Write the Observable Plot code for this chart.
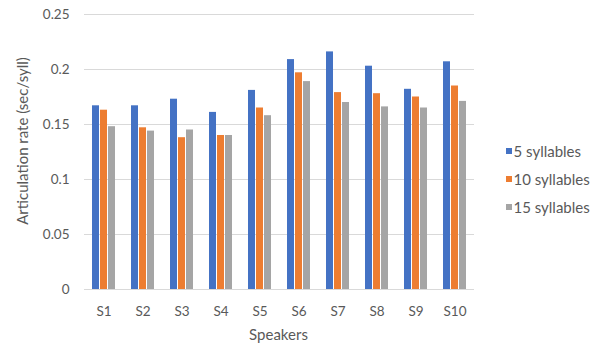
<!DOCTYPE html>
<html>
<head>
<meta charset="utf-8">
<script src="https://cdn.jsdelivr.net/npm/d3@7"></script>
<script src="https://cdn.jsdelivr.net/npm/@observablehq/plot@0.6"></script>
<style>
  html, body { margin: 0; padding: 0; background: #fff; }
  #chart { position: relative; width: 598px; height: 346px; font-family: Lato, "Open Sans", sans-serif; color: #595959; }
  #chart svg { display: block; }
  .title { position: absolute; font-size: 15px; white-space: nowrap; line-height: 1; }
  #ytitle { left: 22px; top: 141px; transform: translate(-50%, -50%) rotate(-90deg); }
  #xtitle { left: 278.5px; top: 334px; transform: translate(-50%, -50%); }
  #legend { position: absolute; left: 506px; top: 137px; font-size: 15px; }
  #legend .item { display: flex; align-items: center; height: 28px; }
  #legend .swatch { width: 6px; height: 6px; margin-right: 1.5px; }
</style>
</head>
<body>
<div id="chart"></div>
<script>
// Articulation rate per speaker for three utterance lengths
const speakers = ["S1", "S2", "S3", "S4", "S5", "S6", "S7", "S8", "S9", "S10"];
const series = ["5 syllables", "10 syllables", "15 syllables"];
const rate5 = [0.167, 0.167, 0.173, 0.161, 0.181, 0.209, 0.216, 0.203, 0.182, 0.207];
const rate10 = [0.163, 0.147, 0.138, 0.140, 0.165, 0.197, 0.179, 0.178, 0.175, 0.185];
const rate15 = [0.148, 0.144, 0.145, 0.140, 0.158, 0.189, 0.170, 0.166, 0.165, 0.171];
const yTicks = [0, 0.05, 0.1, 0.15, 0.2, 0.25];
const colors = ["#4472C4", "#ED7D31", "#A5A5A5"];
const xTitle = "Speakers";
const yTitle = "Articulation rate (sec/syll)";

const bySeries = [rate5, rate10, rate15];
const data = speakers.flatMap((speaker, i) =>
  series.map((s, j) => ({speaker, series: s, rate: bySeries[j][i]}))
);

const chart = Plot.plot({
  width: 598,
  height: 346,
  marginLeft: 79,
  marginRight: 120,
  marginTop: 14,
  marginBottom: 57,
  style: {fontFamily: "Lato, 'Open Sans', sans-serif", fontSize: "13.5px", color: "#595959", background: "white"},
  facet: {data, x: "speaker"},
  fx: {
    domain: speakers,
    padding: 0,
    axis: "bottom",
    tickSize: 0,
    tickPadding: 17,
    label: null
  },
  x: {domain: series, axis: null, paddingInner: 0.1, paddingOuter: 0.935},
  y: {
    domain: [0, 0.25],
    ticks: yTicks,
    tickFormat: d => String(d),
    tickSize: 0,
    tickPadding: 15,
    label: null
  },
  color: {domain: series, range: colors},
  marks: [
    Plot.gridY(yTicks, {stroke: "#d9d9d9", strokeOpacity: 1, strokeWidth: 1}),
    Plot.barY(data, {x: "series", y: "rate", fill: "series"})
  ]
});
const root = document.getElementById("chart");
root.appendChild(chart);

// Axis titles
for (const [id, text] of [["xtitle", xTitle], ["ytitle", yTitle]]) {
  const el = document.createElement("div");
  el.id = id;
  el.className = "title";
  el.textContent = text;
  root.appendChild(el);
}

// Legend to the right of the plot
const legend = document.createElement("div");
legend.id = "legend";
series.forEach((s, i) => {
  const item = document.createElement("div");
  item.className = "item";
  const sw = document.createElement("span");
  sw.className = "swatch";
  sw.style.background = colors[i];
  const label = document.createElement("span");
  label.textContent = s;
  item.appendChild(sw);
  item.appendChild(label);
  legend.appendChild(item);
});
root.appendChild(legend);
</script>
</body>
</html>
